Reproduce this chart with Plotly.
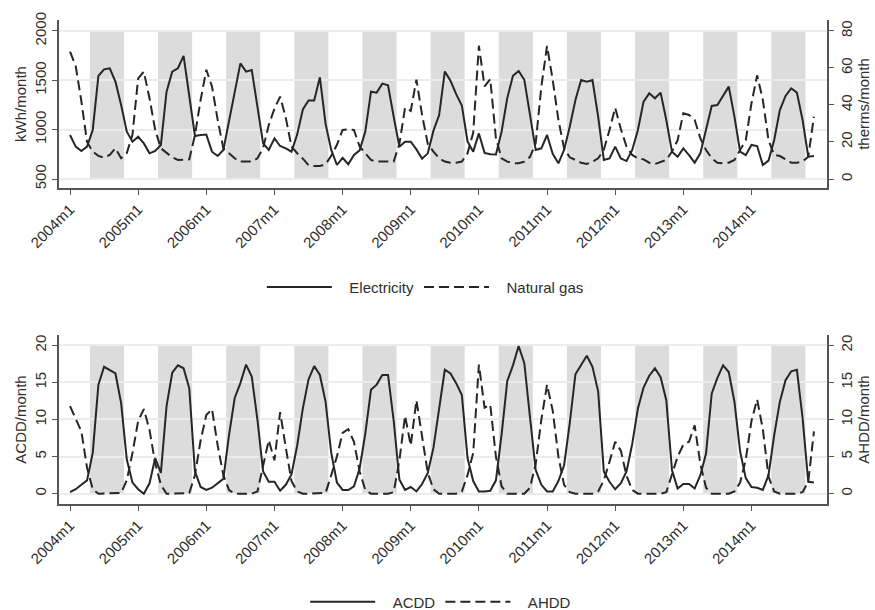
import plotly.graph_objects as go

years = list(range(2004, 2015))
tick_labels = [f"{y}m1" for y in years]
summer_months = [5, 6, 7, 8, 9, 10]  # shaded months (May-Oct)

electricity = [
    946, 828, 784, 828, 997, 1544, 1611, 1622, 1486, 1250, 980, 878,
    929, 861, 760, 784, 845, 1385, 1588, 1622, 1747, 1350, 936, 946,
    950, 777, 733, 794, 1098, 1402, 1672, 1588, 1605, 1233, 861, 794,
    912, 834, 811, 777, 950, 1205, 1295, 1295, 1530, 1060, 795, 642,
    715, 650, 743, 790, 980, 1385, 1375, 1466, 1450, 1130, 827, 877,
    878, 800, 705, 760, 990, 1148, 1590, 1495, 1360, 1245, 880, 777,
    962, 765, 750, 748, 980, 1320, 1545, 1595, 1505, 1150, 794, 811,
    946, 755, 659, 794, 1030, 1300, 1503, 1486, 1503, 1132, 693, 709,
    828, 709, 682, 794, 997, 1284, 1368, 1318, 1375, 1098, 777, 726,
    811, 743, 666, 760, 997, 1240, 1250, 1341, 1436, 1132, 777, 743,
    845, 834, 642, 686, 895, 1199, 1341, 1419, 1375, 1098, 726, 733,
]

natural_gas = [
    68.8, 61, 42, 20, 14.8, 12.5, 11.5, 13, 16.6, 11.2, 14, 24,
    54.4, 58, 43.6, 26.5, 16.6, 13.9, 11.7, 10.3, 10.3, 10.6, 23.8, 42.7,
    59, 50, 32, 16.6, 13.9, 11.2, 9.4, 9.4, 9.4, 11.2, 16.6, 29.2,
    38, 44.5, 33, 17.5, 13.9, 11, 7.5, 7, 7, 8, 12.5, 18.5,
    26.5, 26.8, 26.5, 17.5, 13.9, 10.3, 9.4, 9.4, 9.4, 9.4, 19, 38.5,
    36.8, 53.7, 34.5, 19, 14.8, 11.2, 9.4, 8.8, 8.8, 9.4, 13.9, 25,
    72, 50, 54, 22, 11.2, 9.4, 8.5, 8.5, 9.4, 12, 19.3, 50,
    71.9, 53.5, 32, 16.6, 11.7, 10.3, 8.8, 8.1, 9.4, 11.2, 15.7, 26.5,
    38.5, 27, 17.5, 13, 11.2, 10.6, 8.8, 8.1, 9.4, 10.3, 14.8, 21,
    35.5, 34.6, 31.9, 22, 15.7, 11.2, 8.8, 8.5, 8.8, 10.3, 15.7, 21,
    40.9, 56, 42.7, 21, 13, 12.4, 10.6, 8.8, 8.8, 9.4, 12, 33.7,
]

acdd = [
    0.2, 0.6, 1.2, 1.8, 5.5, 14.7, 17.1, 16.6, 16.2, 12.2, 4.6, 1.5,
    0.6, 0.0, 1.4, 4.8, 2.8, 11.8, 16.3, 17.3, 16.9, 14.2, 3.0, 0.9,
    0.5, 0.8, 1.4, 2.0, 7.9, 12.9, 14.9, 17.4, 15.8, 10.0, 3.0, 1.6,
    1.6, 0.4, 1.2, 2.6, 6.5, 11.5, 15.4, 17.2, 16.0, 12.4, 5.5, 1.5,
    0.5, 0.5, 1.0, 3.4, 8.1, 14.0, 14.7, 16.0, 16.0, 9.8, 1.9, 0.5,
    0.9, 0.3, 1.3, 2.8, 6.2, 11.2, 16.7, 16.2, 14.9, 13.3, 4.8, 1.7,
    0.3, 0.3, 0.4, 1.8, 8.0, 15.2, 17.3, 19.9, 17.6, 10.3, 3.2, 1.2,
    0.3, 0.3, 1.7, 3.8, 9.5, 16.1, 17.4, 18.6, 17.1, 13.8, 3.0, 1.6,
    0.6, 1.4, 3.0, 6.7, 11.5, 14.3, 15.9, 16.9, 15.7, 12.6, 3.2, 0.7,
    1.3, 1.3, 0.7, 2.5, 5.4, 13.5, 15.6, 17.3, 16.4, 12.4, 5.7, 2.1,
    0.9, 0.8, 0.5, 2.5, 7.9, 12.4, 15.3, 16.5, 16.7, 10.2, 1.6, 1.5,
]

ahdd = [
    11.8, 10.2, 8.4, 3.5, 0.6, 0, 0, 0, 0, 0.1, 1.8, 5.5,
    9.8, 11.4, 8.6, 4.1, 1.2, 0, 0, 0, 0, 0.1, 2.5, 7.2,
    10.6, 11.4, 6.5, 2.5, 0.5, 0, 0, 0, 0, 0.3, 4.0, 7.2,
    4.5, 11.0, 6.2, 1.7, 0.3, 0, 0, 0, 0, 0.1, 2.5, 5.0,
    8.2, 8.7, 7.0, 3.0, 0.5, 0, 0, 0, 0, 0.2, 4.5, 10.5,
    6.5, 12.6, 8.0, 2.8, 0.6, 0, 0, 0, 0, 0.3, 2.5, 5.5,
    17.4, 11.6, 12.0, 5.0, 1.0, 0, 0, 0, 0, 0.8, 4.0, 10.0,
    14.7, 11.2, 5.0, 1.2, 0.2, 0, 0, 0, 0, 0.3, 1.8, 4.3,
    7.0, 5.8, 2.4, 0.5, 0, 0, 0, 0, 0, 0.2, 2.5, 5.0,
    6.6, 7.0, 9.2, 4.0, 0.8, 0, 0, 0, 0, 0.3, 1.5, 4.6,
    9.8, 12.7, 8.7, 2.3, 0.3, 0, 0, 0, 0, 0.2, 1.6, 8.4,
]

months = list(range(len(electricity)))  # 0 = 2004m1
tickvals = [12 * i for i in range(len(years))]

FONT = "Arial, Liberation Sans, Helvetica, sans-serif"
TXT = "#2e2e2e"
AX = "#555555"
BAND = "#dcdcdc"
GRID = "#ececec"
LINE = "#262626"
DASH = "10px,5px"
PAD = "\u00a0\u00a0\u00a0"  # gap between legend key and label

fig = go.Figure()

fig.add_trace(go.Scatter(x=months, y=electricity, mode="lines", name=PAD + "Electricity",
                         line=dict(color=LINE, width=2), xaxis="x", yaxis="y", legend="legend"))
fig.add_trace(go.Scatter(x=months, y=natural_gas, mode="lines", name=PAD + "Natural gas",
                         line=dict(color=LINE, width=2, dash=DASH), xaxis="x", yaxis="y2", legend="legend"))
fig.add_trace(go.Scatter(x=months, y=acdd, mode="lines", name=PAD + "ACDD",
                         line=dict(color=LINE, width=2), xaxis="x2", yaxis="y3", legend="legend2"))
fig.add_trace(go.Scatter(x=months, y=ahdd, mode="lines", name=PAD + "AHDD",
                         line=dict(color=LINE, width=2, dash=DASH), xaxis="x2", yaxis="y4", legend="legend2"))

# seasonal shading bands (built from month indices)
shapes = []
for i in range(len(years)):
    x0 = 12 * i + summer_months[0] - 1 - 0.5
    x1 = 12 * i + summer_months[-1] - 1 + 0.5
    shapes.append(dict(type="rect", xref="x", yref="y", x0=x0, x1=x1, y0=500, y1=2000,
                       fillcolor=BAND, line=dict(width=0), layer="below"))
    shapes.append(dict(type="rect", xref="x2", yref="y3", x0=x0, x1=x1, y0=0, y1=20,
                       fillcolor=BAND, line=dict(width=0), layer="below"))

xr = [-1.94, 133.3]
TF = dict(size=15, color=TXT, family=FONT)
common_x = dict(range=xr, tickvals=tickvals, ticktext=tick_labels, tickangle=-45,
                showline=True, linecolor=AX, linewidth=1.5, ticks="outside", ticklen=5,
                tickcolor=AX, showgrid=False, zeroline=False, automargin=False,
                tickfont=TF)
common_y = dict(showline=True, linecolor=AX, linewidth=1.5, ticks="outside", ticklen=5,
                tickcolor=AX, zeroline=False, tickangle=-90, automargin=False,
                tickfont=TF)

fig.update_layout(
    width=875, height=610,
    margin=dict(l=59, r=48, t=20, b=106, autoexpand=False),
    paper_bgcolor="white", plot_bgcolor="white",
    font=dict(family=FONT, color=TXT, size=15),
    shapes=shapes,
    xaxis=dict(domain=[0, 1], anchor="y", **common_x),
    yaxis=dict(domain=[0.6529, 1], anchor="x", range=[409, 2111], tickvals=[500, 1000, 1500, 2000],
               showgrid=True, gridcolor=GRID, gridwidth=1.5,
               title=dict(text="kWh/month", font=TF, standoff=2),
               **common_y),
    yaxis2=dict(overlaying="y", side="right", anchor="x", range=[-4.86, 85.9],
                tickvals=[0, 20, 40, 60, 80], showgrid=False,
                title=dict(text="therms/month", font=TF, standoff=2),
                **common_y),
    xaxis2=dict(domain=[0, 1], anchor="y3", **common_x),
    yaxis3=dict(domain=[0, 0.3492], anchor="x2", range=[-1.39, 21.39], tickvals=[0, 5, 10, 15, 20],
                showgrid=True, gridcolor=GRID, gridwidth=1.5,
                title=dict(text="ACDD/month", font=TF, standoff=2),
                **common_y),
    yaxis4=dict(overlaying="y3", side="right", anchor="x2", range=[-1.39, 21.39],
                tickvals=[0, 5, 10, 15, 20], showgrid=False,
                title=dict(text="AHDD/month", font=TF, standoff=2),
                **common_y),
    legend=dict(orientation="h", x=0.477, xanchor="center", y=0.448, yanchor="middle",
                font=TF, itemwidth=65, bgcolor="rgba(0,0,0,0)"),
    legend2=dict(orientation="h", x=0.497, xanchor="center", y=-0.2025, yanchor="middle",
                 font=TF, itemwidth=65, bgcolor="rgba(0,0,0,0)"),
    showlegend=True,
)

fig.write_html("out.html")
